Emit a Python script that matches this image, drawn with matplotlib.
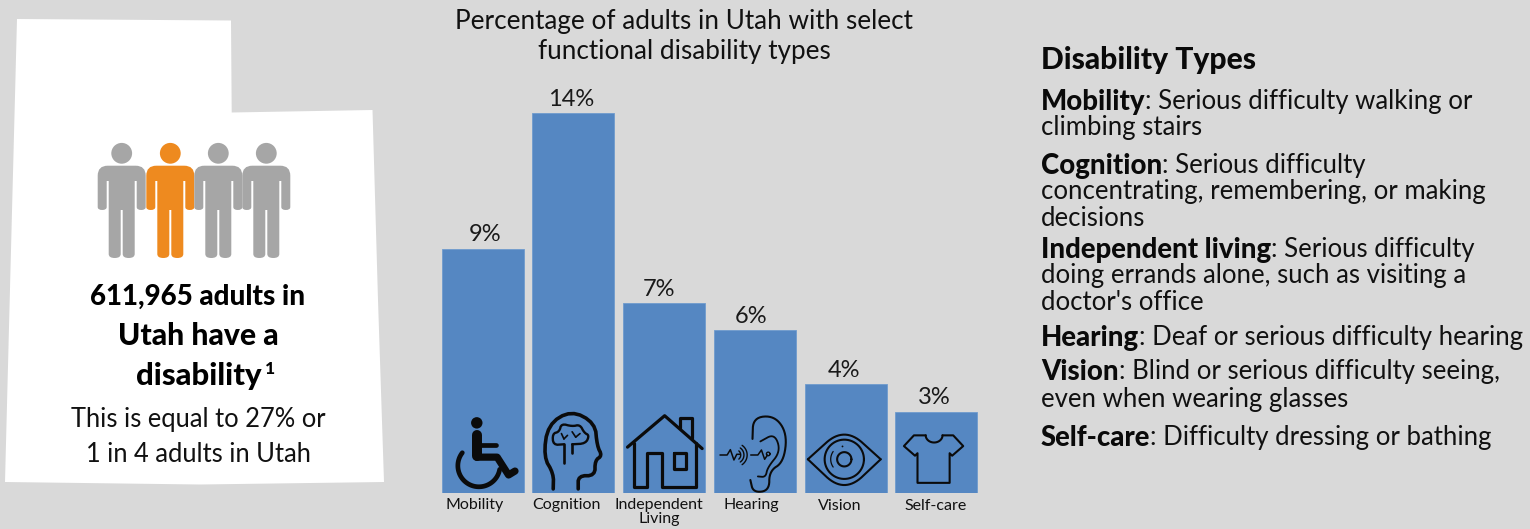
import numpy as np
import matplotlib
matplotlib.use("Agg")
import matplotlib.pyplot as plt
from matplotlib.patches import Circle, Polygon, PathPatch
from matplotlib.path import Path
from matplotlib.transforms import Affine2D

# chart data
categories = ["Mobility", "Cognition", "Independent\nLiving", "Hearing", "Vision", "Self-care"]
percent = [9, 14, 7, 6, 4, 3]
chart_title = ["Percentage of adults in Utah with select", "functional disability types"]
people_colors = ["#A6A6A6", "#EE8A1F", "#A6A6A6", "#A6A6A6"]
headline = ["611,965 adults in", "Utah have a", "disability"]
subline = ["This is equal to 27% or", "1 in 4 adults in Utah"]
definitions = [
    ("Mobility", ": Serious difficulty walking or", 102),
    ("", "climbing stairs", 128),
    ("Cognition", ": Serious difficulty", 166),
    ("", "concentrating, remembering, or making", 192),
    ("", "decisions", 218),
    ("Independent living", ": Serious difficulty", 250),
    ("", "doing errands alone, such as visiting a", 276),
    ("", "doctor's office", 302),
    ("Hearing", ": Deaf or serious difficulty hearing", 338),
    ("Vision", ": Blind or serious difficulty seeing,", 372),
    ("", "even when wearing glasses", 399),
    ("Self-care", ": Difficulty dressing or bathing", 438),
]

BG = "#D9D9D9"
BAR = "#5587C2"
W, H = 1530, 529
FONT = "Lato"

plt.rcParams["font.family"] = [FONT, "DejaVu Sans"]

fig = plt.figure(figsize=(W / 100, H / 100), dpi=100, facecolor=BG)

# bars, baseline at y=493 and 14% reaching y=113
ax = fig.add_axes([437.4 / W, 1 - 493 / H, 544.2 / W, 380 / H])
ax.set_facecolor("none")
xs = np.arange(len(percent))
ax.bar(xs, percent, width=0.905, color=BAR, edgecolor="#6F9BCE", linewidth=0.6)
ax.set_xlim(-0.5, 5.5)
ax.set_ylim(0, 14)
ax.axis("off")
# value labels are not quite centred on their bars (offsets in points)
nudge = [1.5, -2, -3.5, -3, -1, -1.5]
for x, p, dx in zip(xs, percent, nudge):
    ax.annotate(f"{p}%", (x, p), xytext=(dx, 2.5), textcoords="offset points",
                ha="center", va="bottom", fontsize=17, color="#1a1a1a")

# everything else is placed in pixels
ov = fig.add_axes([0, 0, 1, 1], zorder=3)
ov.set_xlim(0, W)
ov.set_ylim(H, 0)
ov.axis("off")
ov.patch.set_alpha(0)

# state outline
utah = [(17, 19), (231, 20.5), (231.7, 112.5), (372.5, 110), (378, 300), (384, 482),
        (200, 484.5), (5, 482), (11, 250)]
ov.add_patch(Polygon(utah, closed=True, fc="white", ec="none"))


def person(cx, color):
    ov.add_patch(Circle((cx, 153.3), 10.4, fc=color, ec="none"))
    top, arm_end, pit, foot = 165.7, 210, 181, 258
    M, L, C = Path.MOVETO, Path.LINETO, Path.CURVE3
    pts = [(-14, top), (-24, top), (-24, top + 10), (-24, arm_end - 3), (-24, arm_end),
           (-19.5, arm_end), (-15, arm_end), (-15, arm_end - 3), (-15, pit), (-13, pit),
           (-13, foot - 4), (-13, foot), (-7, foot), (-1, foot), (-1, foot - 4), (-1, arm_end),
           (1, arm_end), (1, foot - 4), (1, foot), (7, foot), (13, foot), (13, foot - 4),
           (13, pit), (15, pit), (15, arm_end - 3), (15, arm_end), (19.5, arm_end), (24, arm_end),
           (24, arm_end - 3), (24, top + 10), (24, top), (14, top), (-14, top)]
    codes = [M, C, C, L, C, C, C, C, L, L,
             L, C, C, C, C, L,
             L, L, C, C, C, C,
             L, L, L, C, C, C,
             C, L, C, C, L]
    verts = [(cx + a, b) for a, b in pts]
    ov.add_patch(PathPatch(Path(verts, codes), fc=color, ec="none"))


for cx, c in zip([121.7, 170.3, 218.3, 266.3], people_colors):
    person(cx, c)

# left panel text
for txt, x, y, size in zip(headline, [198, 198, 198.5], [297, 336, 376], [20, 21.7, 22.4]):
    ov.text(x, y, txt, ha="center", va="center", fontsize=size, fontweight="black", color="black")
ov.text(270, 369, "1", ha="center", va="center", fontsize=12.5, fontweight="black", color="black")
for txt, y in zip(subline, [419, 454]):
    ov.text(198.5, y, txt, ha="center", va="center", fontsize=18.4, color="#111111")

# chart title
for txt, y in zip(chart_title, [21, 52]):
    ov.text(684, y, txt, ha="center", va="center", fontsize=18.8, color="#111111")

# category labels sit a little left of the bar centres
for txt, x in zip(categories, [475, 566.5, 659, 751, 840, 936]):
    ov.text(x, 498.5, txt, ha="center", va="top", fontsize=11.5, linespacing=1.0, color="#111111")

# definitions panel
renderer = fig.canvas.get_renderer()
ov.text(1041, 60, "Disability Types", ha="left", va="center", fontsize=21.6,
        fontweight="black", color="#0a0a0a")
for bold, rest, y in definitions:
    x = 1041
    if bold:
        t = ov.text(x, y, bold, ha="left", va="center", fontsize=19.8, fontweight="black", color="#0a0a0a")
        x = t.get_window_extent(renderer).x1
    ov.text(x, y, rest, ha="left", va="center", fontsize=18.5, color="#111111")

# icons, drawn in a 2.8x grid anchored at (430, 380)
icon = Affine2D().scale(1 / 2.8).translate(430, 380) + ov.transData
INK = "#0b0b0b"


def stroke(pts, lw=2.0, closed=False, cap="round"):
    pts = np.array(pts, dtype=float)
    if closed:
        pts = np.vstack([pts, pts[:1]])
    ov.plot(pts[:, 0], pts[:, 1], color=INK, lw=lw, transform=icon,
            solid_capstyle=cap, solid_joinstyle="round")


def curve(pts, lw=2.0, closed=False, passes=3):
    # corner cutting to round off a control polygon
    p = np.array(pts, dtype=float)
    for _ in range(passes):
        if closed:
            q = np.roll(p, -1, axis=0)
            p = np.column_stack([0.75 * p + 0.25 * q, 0.25 * p + 0.75 * q]).reshape(-1, 2)
        else:
            a, b = p[:-1], p[1:]
            mid = np.column_stack([0.75 * a + 0.25 * b, 0.25 * a + 0.75 * b]).reshape(-1, 2)
            p = np.vstack([p[:1], mid, p[-1:]])
    stroke(p, lw=lw, closed=closed)


def arc(cx, cy, r, a0, a1, lw=2.0, ry=None):
    t = np.radians(np.linspace(a0, a1, 60))
    stroke(np.column_stack([cx + r * np.cos(t), cy + (ry or r) * np.sin(t)]), lw=lw)


def dot(x, y, r):
    ov.add_patch(Circle((x, y), r, fc=INK, ec="none", transform=icon))


# wheelchair
dot(131, 120, 16)
stroke([(131, 155), (131, 212)], lw=7.2)
stroke([(131, 182), (184, 182)], lw=3.4)
stroke([(131, 216), (188, 216), (220, 266), (238, 255)], lw=5.2)
arc(137, 240, 59, 10, 218, lw=3.4)

# head with brain
curve([(345, 305), (346, 262), (318, 215), (330, 125), (395, 85), (462, 120), (468, 185),
       (482, 212), (462, 225), (462, 268), (415, 268), (415, 305)], lw=2.6, passes=2)
curve([(375, 180), (345, 182), (343, 150), (362, 145), (368, 122), (398, 130), (420, 125),
       (432, 148), (446, 155), (436, 178), (398, 180)], lw=1.7, passes=2)
stroke([(375, 180), (375, 232)], lw=1.9)
stroke([(397, 180), (397, 205)], lw=1.9)
stroke([(375, 165), (368, 150)], lw=1.2)
stroke([(375, 165), (385, 155)], lw=1.2)
stroke([(408, 160), (398, 145)], lw=1.2)
stroke([(408, 160), (420, 150)], lw=1.2)

# house
stroke([(553, 188), (657, 100), (762, 192)], lw=2.3)
stroke([(700, 135), (700, 107), (735, 107), (735, 162)], lw=2.3)
stroke([(570, 175), (570, 300), (608, 300), (608, 205), (650, 205), (650, 300), (745, 300), (745, 175)], lw=2.3)
stroke([(684, 205), (718, 205), (718, 248), (684, 248)], lw=2.3, closed=True)

# ear with sound wave
curve([(903, 165), (905, 105), (965, 100), (1000, 150), (990, 230), (950, 255), (950, 310), (905, 315), (897, 280)],
      lw=1.5, passes=3)
curve([(925, 172), (965, 150), (982, 200), (945, 245), (940, 272), (918, 270)], lw=1.3, passes=3)
stroke([(812, 210), (832, 210), (841, 195), (851, 224), (859, 208), (868, 208)], lw=1.1)
stroke([(898, 210), (918, 210), (928, 196), (937, 222), (945, 210)], lw=1.1)
arc(947, 207, 5, 0, 360, lw=1.0)
arc(855, 210, 15, -50, 50, lw=1.0)
arc(855, 210, 24, -55, 55, lw=1.0)
arc(855, 210, 33, -55, 55, lw=1.0)

# eye
curve([(1058, 222), (1160, 130), (1262, 222)], lw=1.5, passes=4)
curve([(1058, 222), (1160, 318), (1262, 222)], lw=1.5, passes=4)
arc(1160, 222, 55, 0, 360, lw=1.5)
arc(1160, 222, 20, 0, 360, lw=1.5)
arc(1160, 222, 38, 145, 215, lw=0.9)
dot(1155, 186, 2.5)

# t-shirt
stroke([(1388, 155), (1355, 155), (1327, 185), (1358, 212), (1365, 205), (1365, 288), (1455, 288),
        (1455, 205), (1462, 212), (1493, 185), (1465, 155), (1435, 155)], lw=1.5)
arc(1411.5, 155, 23.5, 0, 180, lw=1.5, ry=20)

fig.savefig("out.png", dpi=100, facecolor=BG)
